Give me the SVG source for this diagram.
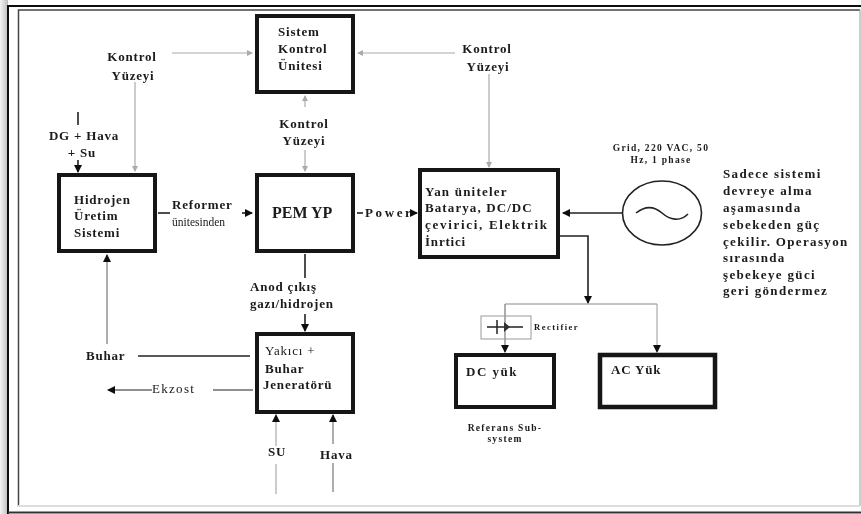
<svg xmlns="http://www.w3.org/2000/svg" width="861" height="514" viewBox="0 0 861 514">
<defs>
<linearGradient id="edge" x1="0" x2="1" y1="0" y2="0"><stop offset="0" stop-color="#f4f4f4"/><stop offset="1" stop-color="#bdbdbd"/></linearGradient>
<filter id="soft" x="0" y="0" width="861" height="514" filterUnits="userSpaceOnUse"><feGaussianBlur stdDeviation="0.45"/></filter>
<marker id="ad" markerWidth="10" markerHeight="10" refX="7" refY="4" orient="auto" markerUnits="userSpaceOnUse"><path d="M0 0L8 4L0 8Z" fill="#111"/></marker>
<marker id="ag" markerWidth="8" markerHeight="8" refX="5" refY="3" orient="auto" markerUnits="userSpaceOnUse"><path d="M0 0L6 3L0 6Z" fill="#aaa"/></marker>
</defs>
<style>
text{font-family:"Liberation Serif","Times New Roman",serif;font-size:13px;fill:#1a1a1a;font-weight:bold;letter-spacing:.8px}
.r{font-weight:normal}
.s{font-size:9.5px;letter-spacing:1.3px;font-weight:bold}
#note text{letter-spacing:1.35px}
.box{fill:#fff;stroke:#151515;stroke-width:4}
.d{fill:none;stroke:#222;stroke-width:1.6}
.g{fill:none;stroke:#aaa;stroke-width:1.2}
.m{fill:none;stroke:#777;stroke-width:1.2}
.t{fill:none;stroke:#999;stroke-width:1}
</style>
<rect width="861" height="514" fill="#fff"/>
<rect x="0" y="0" width="8" height="514" fill="url(#edge)"/>
<g filter="url(#soft)">
<g id="frame" fill="none">
<path d="M8 514V6H861" stroke="#111" stroke-width="2"/>
<path d="M18.500 507V10H860" stroke="#444" stroke-width="1.500"/>
<path d="M860 10V506" stroke="#999" stroke-width="1"/>
<path d="M18 506H860" stroke="#ddd" stroke-width="2"/>
<path d="M8 512.500H861" stroke="#333" stroke-width="2"/>
</g>
<g id="connectors">
<path class="g" marker-end="url(#ag)" d="M172 53H252"/>
<path class="g" marker-end="url(#ag)" d="M455 53H358"/>
<path class="g" marker-end="url(#ag)" d="M305 107V96"/>
<path class="g" marker-end="url(#ag)" d="M305 150V171"/>
<path class="g" marker-end="url(#ag)" d="M135 82V171"/>
<path class="g" marker-end="url(#ag)" d="M489 74V167"/>
<path class="d" d="M78 112V125"/>
<path class="d" marker-end="url(#ad)" d="M78 160V172"/>
<path class="d" marker-end="url(#ad)" d="M242 213H252"/>
<path class="d" d="M158 213H170"/>
<path class="d" d="M357 213H363"/>
<path class="d" marker-end="url(#ad)" d="M414 213H417"/>
<path class="d" marker-end="url(#ad)" d="M622 213H563"/>
<path class="d" d="M305 254V278"/>
<path class="d" marker-end="url(#ad)" d="M305 314V331"/>
<path class="m" marker-end="url(#ad)" d="M107 344V255"/>
<path class="d" d="M138 356H250"/>
<path class="d" style="stroke-width:1.200" d="M213 390H253"/>
<path class="d" style="stroke-width:1.200" marker-end="url(#ad)" d="M152 390H108"/>
<path class="t" marker-end="url(#ad)" d="M276 446V415"/>
<path class="t" d="M276 464V494"/>
<path class="m" marker-end="url(#ad)" d="M333 444V415"/>
<path class="m" d="M333 463V492"/>
<path class="d" marker-end="url(#ad)" d="M560 236H588V303"/>
<path class="t" style="stroke:#888" d="M505 304H657"/>
<path class="t" marker-end="url(#ad)" d="M657 304V352"/>
<path class="m" marker-end="url(#ad)" d="M505 304V352"/>
</g>
<g id="rectifier">
<rect x="481" y="316" width="50" height="23" fill="none" stroke="#999" stroke-width="1"/>
<path d="M487 327H523M497 320V334" fill="none" stroke="#222" stroke-width="1.500"/>
<path d="M504 322L510 327L504 332Z" fill="#333"/>
<text class="s" x="534" y="330" style="font-size:8.500px;letter-spacing:1.500px">Rectifier</text>
</g>
<g id="sistem-kontrol"><rect class="box" x="257" y="16" width="96" height="76"/><text x="278" y="36">Sistem</text><text x="278" y="53">Kontrol</text><text x="278" y="70">Ünitesi</text></g>
<g id="label-kontrol-1"><text x="132" y="61" text-anchor="middle">Kontrol</text><text x="133" y="80" text-anchor="middle">Yüzeyi</text></g>
<g id="label-kontrol-2"><text x="304" y="128" text-anchor="middle">Kontrol</text><text x="304" y="145" text-anchor="middle">Yüzeyi</text></g>
<g id="label-kontrol-3"><text x="487" y="53" text-anchor="middle">Kontrol</text><text x="488" y="71" text-anchor="middle">Yüzeyi</text></g>
<g id="label-dg"><text x="84" y="140" text-anchor="middle">DG + Hava</text><text x="82" y="157" text-anchor="middle">+ Su</text></g>
<g id="hidrojen"><rect class="box" x="59" y="175" width="96" height="76"/><text x="74" y="204">Hidrojen</text><text x="74" y="220">Üretim</text><text x="74" y="237">Sistemi</text></g>
<g id="label-reformer"><text x="172" y="209">Reformer</text><text class="r" x="172" y="226" style="font-size:11.500px;letter-spacing:0">ünitesinden</text></g>
<g id="pem"><rect class="box" x="257" y="175" width="96" height="76"/><text x="272" y="218" style="font-size:16px;letter-spacing:0">PEM YP</text></g>
<text id="label-power" x="365" y="217" style="letter-spacing:2.600px">Power</text>
<g id="yan"><rect class="box" x="420" y="170" width="138" height="87"/><text x="425" y="196" style="letter-spacing:1.200px">Yan üniteler</text><text x="425" y="212" style="letter-spacing:1.100px">Batarya, DC/DC</text><text x="425" y="229" style="letter-spacing:1.700px">çevirici, Elektrik</text><text x="425" y="246">İnrtici</text></g>
<g id="grid"><ellipse cx="662" cy="213" rx="39.500" ry="32" fill="#fff" stroke="#222" stroke-width="1.600"/><path d="M636 213C646 205 654 206 662 213S680 222 688 214" fill="none" stroke="#222" stroke-width="1.600"/><text class="s" x="661" y="151" text-anchor="middle">Grid, 220 VAC, 50</text><text class="s" x="661" y="163" text-anchor="middle">Hz, 1 phase</text></g>
<g id="note"><text x="723" y="178">Sadece sistemi</text><text x="723" y="195">devreye alma</text><text x="723" y="212">aşamasında</text><text x="723" y="229">sebekeden güç</text><text x="723" y="246">çekilir. Operasyon</text><text x="723" y="262">sırasında</text><text x="723" y="279">şebekeye güci</text><text x="723" y="295">geri göndermez</text></g>
<g id="label-anod"><text x="250" y="291">Anod çıkış</text><text x="250" y="308">gazı/hidrojen</text></g>
<g id="yakici"><rect class="box" x="257" y="334" width="96" height="78"/><text class="r" x="265" y="355">Yakıcı +</text><text x="265" y="373">Buhar</text><text x="263" y="389">Jeneratörü</text></g>
<text id="label-buhar" x="86" y="360">Buhar</text>
<text id="label-ekzost" class="r" x="152" y="393" style="letter-spacing:1.300px">Ekzost</text>
<text id="label-su" x="268" y="456">SU</text>
<text id="label-hava" x="320" y="459">Hava</text>
<g id="dc"><rect class="box" x="456" y="355" width="98" height="52"/><text x="466" y="376" style="letter-spacing:1.500px">DC yük</text></g>
<g id="ac"><rect class="box" x="600" y="355" width="115" height="52" style="stroke-width:4.500"/><text x="611" y="374">AC Yük</text></g>
<g id="label-ref"><text class="s" x="505" y="431" text-anchor="middle">Referans Sub-</text><text class="s" x="505" y="442" text-anchor="middle">system</text></g>
</g>
</svg>
